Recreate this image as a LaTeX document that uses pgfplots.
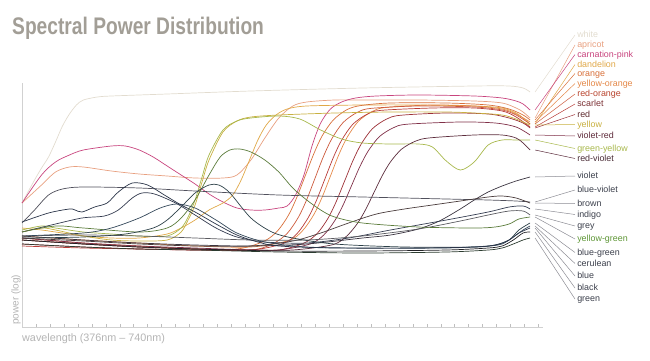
\documentclass[border=0pt]{standalone}
\usepackage{pgfplots}
\pgfplotsset{compat=1.18}
\usepackage{fontspec}
\setmainfont{Liberation Sans}
\usepackage{graphicx}

\definecolor{cWhite}{HTML}{E2DCCF}
\definecolor{cApricot}{HTML}{E8A080}
\definecolor{cPink}{HTML}{C8447E}
\definecolor{cDandelion}{HTML}{E0A848}
\definecolor{cOrange}{HTML}{D8703A}
\definecolor{cYOrange}{HTML}{E48848}
\definecolor{cROrange}{HTML}{CC5A3C}
\definecolor{cScarlet}{HTML}{B83C38}
\definecolor{cRed}{HTML}{9C3036}
\definecolor{cYellow}{HTML}{C8B040}
\definecolor{cVRed}{HTML}{803048}
\definecolor{cGYellow}{HTML}{A8B84C}
\definecolor{cRViolet}{HTML}{5C2C3C}
\definecolor{cViolet}{HTML}{3A3440}
\definecolor{cBViolet}{HTML}{50505C}
\definecolor{cBrown}{HTML}{4A3C3C}
\definecolor{cIndigo}{HTML}{343C50}
\definecolor{cGrey}{HTML}{5A5A60}
\definecolor{cYGreen}{HTML}{5C7C3C}
\definecolor{cBGreen}{HTML}{2C4048}
\definecolor{cCerulean}{HTML}{34485A}
\definecolor{cBlue}{HTML}{2A3448}
\definecolor{cBlack}{HTML}{222226}
\definecolor{cGreen}{HTML}{2C3C30}
\definecolor{tScarlet}{HTML}{7A3034}
\definecolor{tRed}{HTML}{5E2A2E}
\definecolor{tVRed}{HTML}{5E2A3A}
\definecolor{tRViolet}{HTML}{4A2C36}
\definecolor{tROrange}{HTML}{B8442E}
\definecolor{tYGreen}{HTML}{5E9636}
\definecolor{tDark}{HTML}{3C404C}
\definecolor{tLead}{HTML}{8C8C94}
\definecolor{tTitle}{HTML}{A29E96}
\definecolor{tAxis}{HTML}{B4B4B4}

\newcommand{\labfont}{\fontsize{8.9}{10}\selectfont}
\newcommand{\lab}[5]{%
  \draw[#1, line width=0.5pt] (axis cs:743.6,#3) -- (axis cs:772.2,#4);
  \node[anchor=mid west, text=#2, font=\labfont, inner sep=0pt] at (axis cs:773.7,#4) {#5};}

\begin{document}
\begin{tikzpicture}
\useasboundingbox (0,0) rectangle (650pt,360pt);
\node[anchor=base west, inner sep=0pt, text=tTitle] at (12pt,326pt)
  {\scalebox{0.80}[1]{\fontsize{24}{26}\selectfont\bfseries Spectral Power Distribution}};
\node[anchor=base west, inner sep=0pt, text=tAxis, font=\fontsize{10.8}{12}\selectfont] at (22pt,19pt)
  {wavelength (376nm – 740nm)};
\node[anchor=base west, inner sep=0pt, rotate=90, text=tAxis, font=\fontsize{10}{12}\selectfont] at (18.5pt,35pt)
  {power (log)};
\begin{axis}[
  at={(22pt,33pt)}, anchor=south west, scale only axis,
  width=521.3pt, height=244pt,
  xmin=376, xmax=749.5, ymin=0, ymax=244,
  axis x line*=bottom, axis y line*=left,
  axis line style={draw=black!18, line width=0.5pt},
  xtick={376,386,...,746}, xticklabels={}, ytick=\empty,
  major tick length=3pt, tick align=inside,
  tick style={black!25, line width=0.4pt},
  clip=false,
  every axis plot/.append style={line width=0.7pt, smooth, tension=0.5, no marks},
]
\addplot[cWhite] coordinates {(376,124)(385,147)(390,159)(395,170)(400,185)(405,201)(410,213)(415,222)(420,227)(430,230)(440,231)(480,233)(540,236)(620,239)(700,241)(725,241)(735,239)(740,235)};
\addplot[cApricot] coordinates {(376,124)(390,142)(400,155)(410,160)(420,160)(440,156)(460,153)(480,151)(500,149)(520,149)(530,152)(540,167)(550,189)(560,209)(570,221)(580,225)(600,227)(620,227)(660,227)(700,226)(720,224)(730,219)(735,215)(740,209)};
\addplot[cPink] coordinates {(376,124)(390,152)(400,165)(410,172)(420,177)(440,181)(450,181)(460,177)(470,170)(480,161)(490,152)(500,143)(510,133)(520,125)(530,119)(540,117)(550,117)(560,119)(566,121)(572,132)(578,152)(584,182)(590,204)(597,218)(605,225)(615,229)(630,231)(660,232)(700,231)(720,229)(730,226)(735,223)(740,217)};
\addplot[cDandelion] coordinates {(376,99)(390,97)(400,95)(420,91)(440,89)(460,89)(480,93)(490,99)(500,107)(510,117)(520,124)(527,132)(533,147)(539,167)(545,187)(551,202)(558,212)(566,218)(580,221)(620,222)(660,222)(700,221)(720,219)(730,214)(735,209)(740,203)};
\addplot[cOrange] coordinates {(376,87)(420,83)(460,80)(500,78)(530,78)(549,85.5)(559,96)(567,112)(573,130)(579,151.5)(585,173)(591,191)(599,207)(609,217.5)(619,221.5)(640,224)(680,224)(710,222)(725,218)(735,212)(740,207)};
\addplot[cYOrange] coordinates {(376,91)(420,87)(460,84)(500,81)(540,80)(567,86.4)(577,96.3)(585,112.2)(591,129.7)(597,151)(603,172.3)(609,189.8)(617,205.7)(627,215.6)(637,219.6)(670,222)(700,221)(720,218)(730,213)(740,205)};
\addplot[cROrange] coordinates {(376,89)(420,84)(460,81)(500,78)(540,77)(556,83.5)(566,93.6)(574,109.7)(580,127.4)(586,149)(592,170.6)(598,188.3)(606,204.4)(616,214.5)(626,218.6)(660,221)(700,220)(720,217)(730,212)(740,203)};
\addplot[cScarlet] coordinates {(376,81)(420,79)(460,78)(500,77)(540,77)(563,83.4)(573,93.3)(581,109.2)(587,126.7)(593,148)(599,169.3)(605,186.8)(613,202.7)(623,212.6)(633,216.6)(670,219)(700,219)(720,216)(730,210)(740,200)};
\addplot[cRed] coordinates {(376,83)(420,80)(460,78)(500,77)(540,77)(560,77)(577,83.2)(587,92.8)(595,108.1)(601,125)(607,145.5)(613,166)(619,182.9)(627,198.2)(637,207.8)(647,211.7)(680,214)(710,213)(725,209)(735,204)(740,199)};
\addplot[cYellow] coordinates {(376,95)(390,99)(400,97)(420,91)(440,87)(460,86)(480,87)(490,95)(495,107)(500,122)(505,145)(510,167)(520,195)(530,206)(540,210)(560,212)(600,214)(640,215)(680,215)(700,214)(720,212)(730,208)(735,205)(740,202)};
\addplot[cVRed] coordinates {(376,89)(420,84)(460,81)(500,79)(540,77)(560,77)(582,82.8)(592,91.7)(600,106.1)(606,121.8)(612,141)(618,160.2)(624,175.9)(632,190.3)(642,199.2)(652,202.8)(690,205)(715,204)(730,200)(740,192)};
\addplot[cGYellow] coordinates {(376,97)(390,101)(400,99)(420,95)(440,93)(460,91)(480,91)(490,99)(495,110)(500,127)(505,150)(510,172)(520,197)(530,206)(540,209)(560,211)(575,208)(590,197)(605,188)(620,184)(640,183)(660,183)(670,180)(680,166)(690,157)(700,165)(710,182)(720,187)(730,187)(740,187)};
\addplot[cRViolet] coordinates {(376,87)(420,83)(460,80)(500,78)(540,77)(570,77)(598,82.1)(608,90.1)(616,102.9)(622,116.9)(628,134)(634,151.1)(640,165.1)(648,177.9)(658,185.9)(668,189.1)(700,192)(720,192)(730,189)(735,184)(740,177)};
\addplot[cViolet] coordinates {(376,91)(420,87)(460,84)(500,82)(540,81)(580,83)(620,89)(640,92)(660,98)(675,106)(690,118)(700,127)(710,135)(720,141)(730,146)(740,150)};
\addplot[cBViolet] coordinates {(376,104)(385,117)(395,132)(405,138)(420,140)(460,139)(500,136)(560,132)(620,130)(680,128)(710,127)(730,126)(740,125)};
\addplot[cBrown] coordinates {(376,89)(420,86)(460,83)(500,81)(540,81)(570,86)(590,94)(610,104)(630,113)(650,118)(670,122)(690,126)(710,130)(720,131)(730,129)(740,124)};
\addplot[cIndigo] coordinates {(376,95)(400,103)(419,109)(435,111)(445,117)(455,129)(462,134)(471,133)(486,124)(500,112)(515,99)(530,90)(550,85)(580,84)(610,89)(640,97)(680,107)(710,115)(725,120)(735,121)(740,118)};
\addplot[cGrey] coordinates {(376,91)(420,92)(460,91)(500,89)(540,87)(580,87)(620,91)(660,98)(690,106)(710,112)(725,116)(735,116)(740,112)};
\addplot[cYGreen] coordinates {(376,95)(400,101)(420,99)(460,95)(480,99)(490,109)(500,127)(510,152)(518,170)(525,177)(532,178)(540,175)(550,167)(560,155)(570,139)(580,127)(590,117)(600,110)(620,104)(660,100)(700,99)(715,100)(725,103)(732,108)(740,110)};
\addplot[cBGreen] coordinates {(376,89)(420,90)(450,93)(470,99)(480,107)(490,120)(500,134)(510,142)(517,142)(525,134)(540,109)(555,95)(570,89)(600,83)(650,80)(700,80)(715,82)(725,87)(732,97)(740,104)};
\addplot[cCerulean] coordinates {(376,91)(420,94)(440,99)(460,109)(475,119)(487,123)(500,119)(515,107)(530,94)(550,85)(580,80)(620,79)(680,79)(710,81)(720,83)(728,90)(735,97)(740,101)};
\addplot[cBlue] coordinates {(376,105)(395,114)(410,118)(414,117)(419,115)(428,120)(437,124)(445,135)(455,144)(466,142)(478,132)(490,122)(500,115)(515,103)(530,92)(545,85)(560,81)(600,79)(660,79)(700,80)(715,82)(725,87)(732,94)(740,99)};
\addplot[cBlack] coordinates {(376,87)(420,83)(460,80)(500,78)(560,76)(620,76)(680,77)(710,79)(720,81)(728,87)(735,94)(740,95)};
\addplot[cGreen] coordinates {(376,83)(420,80)(460,78)(500,77)(560,75)(620,74)(680,75)(710,77)(720,79)(728,83)(735,87)(740,89)};

\lab{cWhite}{cWhite}{235}{292}{white}
\lab{cApricot}{cApricot}{209}{282}{apricot}
\lab{cPink}{cPink}{217}{272.5}{carnation-pink}
\lab{cDandelion}{cDandelion}{203}{262.5}{dandelion}
\lab{cOrange}{cOrange}{207}{253.5}{orange}
\lab{cYOrange}{cYOrange}{205}{243.5}{yellow-orange}
\lab{cROrange}{tROrange}{203}{233}{red-orange}
\lab{cScarlet}{tScarlet}{200}{223}{scarlet}
\lab{cRed}{tRed}{199}{212.5}{red}
\lab{cYellow}{cYellow}{202}{202.5}{yellow}
\lab{cVRed}{tVRed}{192}{191}{violet-red}
\lab{cGYellow}{cGYellow}{187}{178.5}{green-yellow}
\lab{cRViolet}{tRViolet}{177}{168.5}{red-violet}
\lab{tLead}{tDark}{150}{151}{violet}
\lab{tLead}{tDark}{125}{137}{blue-violet}
\lab{tLead}{tDark}{124}{123.5}{brown}
\lab{tLead}{tDark}{118}{112.5}{indigo}
\lab{tLead}{tDark}{112}{101}{grey}
\lab{tLead}{tYGreen}{110}{88}{yellow-green}
\lab{tLead}{tDark}{104}{74.5}{blue-green}
\lab{tLead}{tDark}{101}{63.5}{cerulean}
\lab{tLead}{tDark}{99}{51}{blue}
\lab{tLead}{tDark}{95}{39}{black}
\lab{tLead}{tDark}{89}{28}{green}
\end{axis}
\end{tikzpicture}
\end{document}
